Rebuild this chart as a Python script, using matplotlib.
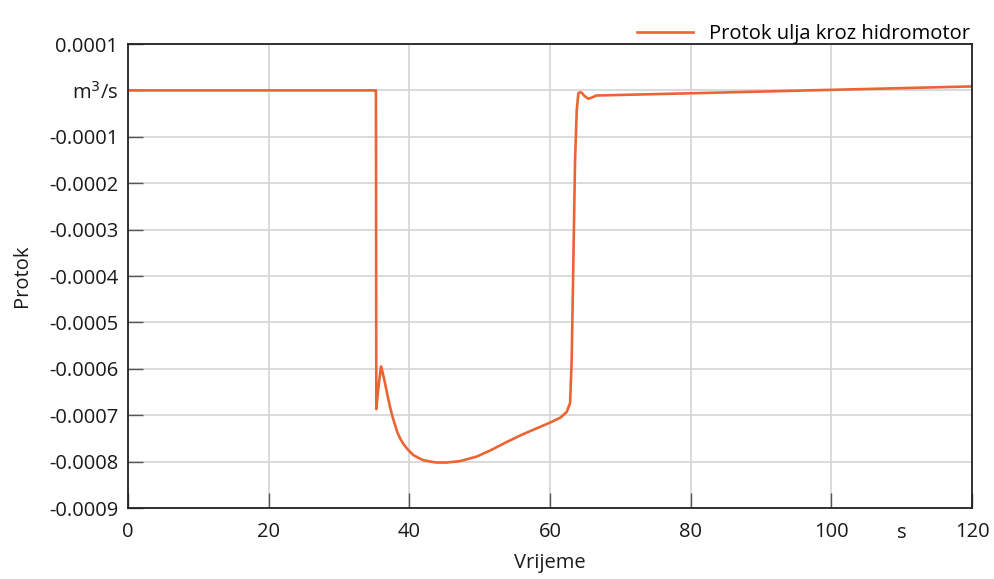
import numpy as np
import matplotlib
matplotlib.use("Agg")
import matplotlib.pyplot as plt

plt.rcParams['font.family'] = ['Open Sans', 'DejaVu Sans']

# time (s) and oil flow through hydraulic motor (m^3/s)
vrijeme = [0, 35.0, 35.25, 35.3, 35.6, 35.97, 36.2, 36.54, 36.9, 37.25, 37.6, 37.96,
           38.3, 38.68, 39.15, 39.62, 40.1, 40.57, 41.3, 42.0, 43.0, 43.9, 45.3,
           47.2, 49.6, 51.5, 53.8, 56.0, 58.6, 60.0, 61.5, 62.37, 62.85, 63.08,
           63.32, 63.56, 63.8, 64.03, 64.25, 64.5, 64.9, 65.45, 66.0, 66.6,
           80, 100, 120]
protok = [0, 0, 0, -0.000687, -0.00064, -0.000595, -0.000608, -0.000631,
          -0.000658, -0.000682, -0.000703, -0.000721, -0.000737, -0.00075,
          -0.000762, -0.000771, -0.000779, -0.000786, -0.000792, -0.000797,
          -0.0008, -0.000802, -0.000802, -0.000799, -0.000789, -0.000776,
          -0.000758, -0.000742, -0.000725, -0.000716, -0.000705, -0.000693,
          -0.000674, -0.000581, -0.000366, -0.00015, -0.000042, -0.0000063,
          -0.000004, -0.000005, -0.000012, -0.000018, -0.000015, -0.000011,
          -0.0000062, 0.0000012, 0.0000086]

x_ticks = [0, 20, 40, 60, 80, 100, 120]
y_ticks = [0.0001, 0, -0.0001, -0.0002, -0.0003, -0.0004, -0.0005, -0.0006,
           -0.0007, -0.0008, -0.0009]
y_labels = ['0.0001', 'm$^3$/s', '-0.0001', '-0.0002', '-0.0003', '-0.0004',
            '-0.0005', '-0.0006', '-0.0007', '-0.0008', '-0.0009']

fig = plt.figure(figsize=(9.94, 5.79), dpi=100)
ax = fig.add_axes([0.1288, 0.1226, 0.8491, 0.8014])

ax.plot(vrijeme, protok, color='#EA6533', lw=1.9, label='Protok ulja kroz hidromotor')

ax.set_xlim(0, 120)
ax.set_ylim(-0.0009, 0.0001)
ax.set_xticks(x_ticks)
ax.set_yticks(y_ticks)
ax.set_yticklabels(y_labels)
ax.grid(True, color='#D4D4D4', lw=1.2)
ax.set_axisbelow(True)
ax.tick_params(direction='in', length=11, width=1, color='#555555',
               labelsize=14.5, labelcolor='#1a1a1a')
ax.tick_params(axis='x', pad=10)
ax.tick_params(axis='y', pad=7)
for sp in ax.spines.values():
    sp.set_color('#222222')
    sp.set_linewidth(1.3)

# unit label on the time axis, in line with the tick labels
ax.annotate('s', xy=(110, 0), xycoords=('data', 'axes fraction'),
            xytext=(0, -10.5), textcoords='offset points',
            ha='center', va='top', fontsize=14.5, color='#1a1a1a')

ax.set_xlabel('Vrijeme', fontsize=14.5, color='#1a1a1a', labelpad=8)
ax.set_ylabel('Protok', fontsize=14.5, color='#1a1a1a', labelpad=12)

ax.legend(loc='lower right', bbox_to_anchor=(1.0, 0.995), frameon=False,
          fontsize=14.5, handlelength=2.8, borderaxespad=0, borderpad=0.1)

fig.savefig('out.png', dpi=100)
